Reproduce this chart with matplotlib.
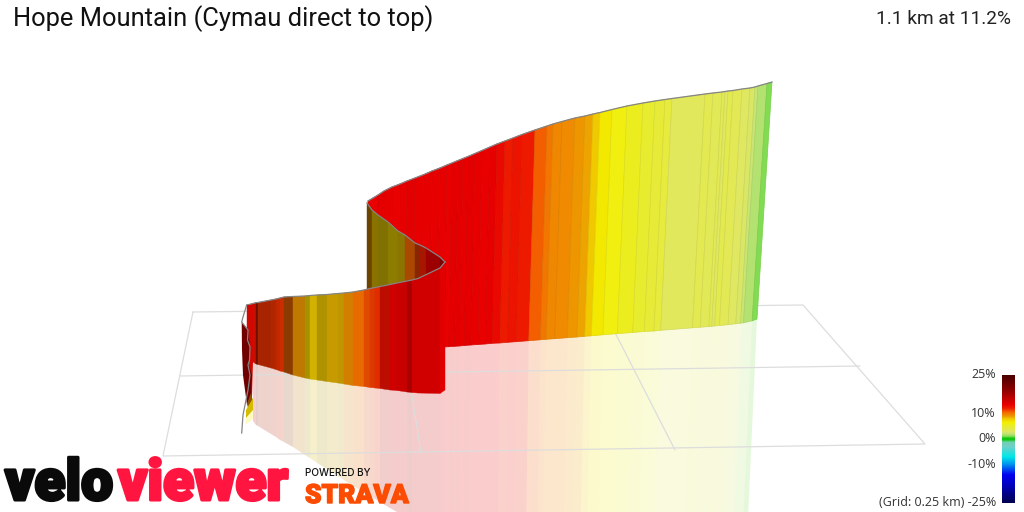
import numpy as np
import matplotlib
matplotlib.use("Agg")
import matplotlib.pyplot as plt
import matplotlib.patheffects as pe
from matplotlib.colors import LinearSegmentedColormap, Normalize

# ---- colour scale: gradient (%) -> colour
scale_grades = [-25, -18, -14, -10, -7, -3, -1.2, -0.4, 0.4, 1, 2, 3, 5, 6.5, 8, 9, 10.5, 12, 13.5, 16, 19, 25]
scale_colors = ['#000050', '#0000c0', '#0000f0', '#0090f0', '#00e8e8', '#70d0c8', '#70d0b0', '#10c810', '#10c810',
                '#80dc50', '#c0e478', '#e0e860', '#e8ec30', '#f4f000', '#f0c800', '#ee9800', '#f46800',
                '#ee2000', '#e80000', '#c00000', '#900000', '#4a0000']
scale_ticks = [25, 10, 0, -10, -25]
scale_labels = ['25%', '10%', '0%', '-10%', '(Grid: 0.25 km) -25%']

# ---- main wall (after the hairpin)
main_top_x = [368, 378, 384, 392, 400, 407, 415, 424, 432, 440, 447, 452, 458, 463, 468, 475, 482, 490, 497, 505,
              513, 522, 535, 547, 553, 562, 575, 585, 593, 600, 612, 627, 643, 655, 665, 672, 705, 713, 722, 725,
              728, 733, 742, 750, 755, 758, 767, 772]
main_top_y = [201, 195, 191, 187, 184, 181, 178, 174.5, 171, 168, 165, 163, 160.5, 158.5, 156.5, 153.5, 150.5, 147,
              144, 141, 138, 134.5, 130, 126, 124, 121.5, 118, 116, 114, 112.5, 109.5, 106, 103, 101, 99.5, 98.5,
              94, 93, 92, 91.5, 91, 90.5, 89, 88, 87, 86, 83.5, 82]
main_base_x = [368, 377.6, 383.4, 391.1, 398.8, 405.6, 413.3, 421.9, 429.6, 437.3, 444.1, 448.9, 454.7, 459.5, 464.3,
               471, 477.8, 485.5, 492.2, 499.9, 507.6, 516.3, 528.8, 540.4, 546.1, 554.8, 567.3, 577, 584.7, 591.4,
               603, 617.4, 632.8, 644.4, 654, 660.7, 692.5, 700.2, 708.9, 711.8, 714.6, 719.5, 728.1, 735.8, 740.6,
               743.5, 752.2, 757]
main_base_y = [353, 352, 352, 351.5, 351, 350.5, 350, 349, 348.5, 348, 347, 346.7, 346.3, 346, 345.5, 345, 344.5, 344,
               343.3, 343, 342.3, 341.7, 340.7, 339.8, 339.3, 338.7, 337.7, 337, 336.3, 335.8, 334.8, 333.6, 332.5,
               331.5, 331, 330.3, 327.8, 327.2, 326.6, 326.3, 326, 325.5, 324.7, 323.8, 323.2, 322.8, 320.8, 319]
main_grades = [13.4, 13.7, 13.5, 13.4, 13.5, 13.7, 13.5, 13.6, 13.5, 13.5, 13.4, 13.7, 13.7, 13.5, 13.7, 13.5, 13.4,
               13.5, 13.0, 12.3, 12.5, 12.3, 10.7, 10, 9.5, 9.4, 9, 8.7, 8, 6.8, 6, 5.5, 5, 4.6, 4.4, 3.2, 3.7, 3.4,
               3.6, 3, 3.8, 3.5, 3, 2.8, 2.3, 1.8, 1]

# ---- back-facing section up to the hairpin
back_x = [367, 372, 378, 388, 398, 405, 415, 420, 426, 440, 445]
back_top_y = [203, 210, 215, 222, 231, 235, 243, 245, 248, 257, 262]
back_base_y = [300, 300, 300, 300, 300, 300, 300, 300, 300, 300, 300]
back_grades = [9, 8, 7.5, 7.5, 8, 10.5, 11.3, 12, 13.5, 13.5]
back_shade = [.45, .57, .53, .58, .58, .7, .57, .7, .68, .53]

# ---- front section
front_x = [247, 256, 258, 271, 276, 280, 284, 293, 305, 310, 317, 327, 338, 344, 353, 364, 370, 375, 380, 390, 397,
           407, 412, 418, 440, 445]
front_top_y = [305, 302.7, 302.5, 300, 299, 298, 297, 296.5, 296, 295.5, 295, 294.5, 293.5, 293, 292, 290, 288.5,
               287.5, 286.5, 284.5, 283, 281, 280, 278.5, 268, 262]
front_base_y = [358, 364, 364.5, 368, 369.5, 371, 372, 375, 378, 379, 380, 381.5, 383, 384, 385.5, 386.5, 387.5, 388,
                388.5, 390, 390.5, 392, 392.5, 393, 393.5, 390]
front_grades = [12.6, 12, 11.6, 11.6, 11.6, 11.6, 10.5, 9, 7.6, 8, 8, 8.3, 8.3, 9.2, 10.2, 11, 11.4, 11.7, 12.6, 13.5,
                13.5, 13.5, 13.5, 13.5, 13.5]
front_shade = [.85, .47, .7, .73, .8, .85, .57, .8, .69, .88, .73, .83, .8, .88, .95, .92, .92, .94, .8, .89, .87,
               .74, .89, .9, .97]
front_mirror_y = [421, 425, 426, 434, 437, 440, 442, 447, 455, 458, 463, 469, 476, 480, 486, 492, 496, 499, 502, 508,
                  512, 520, 522, 526, 540, 540]

# ---- start of the climb (seen nearly edge-on)
start_line_x = [246.7, 243, 241.7, 248, 247.5, 250, 249.5, 248, 250, 248, 246, 243, 241.7]
start_line_y = [305, 317, 322, 330, 340, 347, 360, 365, 375, 390, 400, 415, 433]
start_dark_x = [241.7, 248, 250, 249, 252, 251, 247, 243, 242]
start_dark_y = [322, 330, 347, 365, 375, 395, 405, 375, 350]
start_red_x = [247, 253, 253, 252, 250, 249, 250, 248]
start_red_y = [305, 305, 362, 398, 395, 365, 347, 330]
start_brown_x = [251, 253, 248, 247]
start_brown_y = [393, 402, 408, 404]
start_yellow_x = [253, 253, 246, 246]
start_yellow_y = [398, 410, 418, 410]
start_pale_x = [253, 254, 245, 246]
start_pale_y = [410, 418, 425, 418]

# ---- ground grid
grid_x = [[193, 803, 925, 163, 193], [180, 860], [398, 421], [602, 675]]
grid_y = [[312, 305, 444, 456, 312], [376, 366], [307, 453], [307, 450]]

title = 'Hope Mountain (Cymau direct to top)'
summary = '1.1 km at 11.2%'

# ---- drawing
cmap = LinearSegmentedColormap.from_list(
    'grade', [((g + 25) / 50, c) for g, c in zip(scale_grades, scale_colors)], N=512)
norm = Normalize(-25, 25)


def shaded(grade, shade=1.0):
    return tuple(np.array(cmap(norm(grade))[:3]) * shade)


def seam(colour):
    return tuple(np.array(colour) * 0.93)


fig = plt.figure(figsize=(10.24, 5.12), dpi=100)
ax = fig.add_axes([0, 0, 1, 1])
ax.set_xlim(0, 1024)
ax.set_ylim(512, 0)
ax.axis('off')

MIRROR_ALPHA = 0.2
TRACK = '#858585'

# reflections
m_bx = np.array(main_base_x)
m_by = np.array(main_base_y)
m_rx = m_bx - 0.029 * (m_bx - 445)
for i, g in enumerate(main_grades):
    if main_base_x[i] < 444:
        continue
    x0 = max(m_bx[i], 445.0)
    ax.fill([x0, m_bx[i + 1], m_rx[i + 1], x0 - 0.029 * (x0 - 445)], [m_by[i], m_by[i + 1], 520, 520],
            color=shaded(g), alpha=MIRROR_ALPHA, lw=0, zorder=1)
for i, (g, s) in enumerate(zip(front_grades, front_shade)):
    if front_x[i + 1] < 253:
        continue
    x0 = max(front_x[i], 253)
    ax.fill([x0, front_x[i + 1], front_x[i + 1], x0],
            [front_base_y[i], front_base_y[i + 1], front_mirror_y[i + 1], front_mirror_y[i]],
            color=shaded(g, s), alpha=MIRROR_ALPHA, lw=0, zorder=1)

# grid
for gx, gy in zip(grid_x, grid_y):
    ax.plot(gx, gy, color='#dddddd', lw=0.9, zorder=2, solid_capstyle='round')

# main wall
for i, g in enumerate(main_grades):
    c = shaded(g)
    ax.fill([main_top_x[i], main_top_x[i + 1], main_base_x[i + 1], main_base_x[i]],
            [main_top_y[i], main_top_y[i + 1], main_base_y[i + 1], main_base_y[i]],
            facecolor=c, edgecolor=seam(c), lw=0.5, zorder=3)
ax.plot(main_top_x, main_top_y, color=TRACK, lw=0.9, zorder=4)

# back-facing section
for i, (g, s) in enumerate(zip(back_grades, back_shade)):
    c = shaded(g, s)
    ax.fill([back_x[i], back_x[i + 1], back_x[i + 1], back_x[i]],
            [back_top_y[i], back_top_y[i + 1], back_base_y[i + 1], back_base_y[i]],
            facecolor=c, edgecolor=c, lw=0.3, zorder=5)
ax.plot(back_x, back_top_y, color=TRACK, lw=0.9, zorder=6)

# front section
for i, (g, s) in enumerate(zip(front_grades, front_shade)):
    c = shaded(g, s)
    ax.fill([front_x[i], front_x[i + 1], front_x[i + 1], front_x[i]],
            [front_top_y[i], front_top_y[i + 1], front_base_y[i + 1], front_base_y[i]],
            facecolor=c, edgecolor=c, lw=0.3, zorder=7)
ax.plot(front_x, front_top_y, color=TRACK, lw=0.9, zorder=8)

# start of the climb
ax.fill(start_red_x, start_red_y, color=shaded(13, .9), lw=0, zorder=9)
ax.fill(start_dark_x, start_dark_y, color=shaded(14, .5), lw=0, zorder=10)
ax.fill(start_brown_x, start_brown_y, color=shaded(9.5, .6), lw=0, zorder=10)
ax.fill(start_yellow_x, start_yellow_y, color=shaded(7.5, .88), lw=0, zorder=10)
ax.fill(start_pale_x, start_pale_y, color=shaded(6.5), alpha=.25, lw=0, zorder=10)
ax.plot(start_line_x, start_line_y, color=TRACK, lw=0.9, zorder=11)

# colour bar
bar = np.linspace(25, -25, 256).reshape(-1, 1)
ax.imshow(bar, cmap=cmap, norm=norm, extent=(1002, 1015, 503, 375), aspect='auto', zorder=12)
ax.set_xlim(0, 1024)
ax.set_ylim(512, 0)
for t, lab in zip(scale_ticks, scale_labels):
    ax.text(996, 375 + (25 - t) * 128 / 50, lab, ha='right', va='center', fontsize=9,
            family='Open Sans', color='#333333', zorder=13)

# titles
ax.text(13, 18.5, title, ha='left', va='center', fontsize=18.4, family='Roboto', color='#111111', zorder=13)
ax.text(1011, 19, summary, ha='right', va='center', fontsize=13.8, family='Roboto', color='#222222', zorder=13)

# logos
ax.text(5, 500, 'velo', ha='left', va='baseline', fontsize=41, family='Roboto', weight='black',
        color='#0a0a0a', zorder=14, path_effects=[pe.withStroke(linewidth=2.2, foreground='#0a0a0a')])
ax.text(118, 500, 'viewer', ha='left', va='baseline', fontsize=41, family='Roboto', weight='black',
        color='#ff1540', zorder=14, path_effects=[pe.withStroke(linewidth=2.2, foreground='#ff1540')])
ax.text(305, 473.5, 'POWERED BY', ha='left', va='center', fontsize=7.2, family='Inter', weight='medium',
        color='#111111', zorder=14)
ax.text(305, 503, 'STRAVA', ha='left', va='baseline', fontsize=19, family='Roboto', weight='black',
        color='#fc4c02', zorder=14, path_effects=[pe.withStroke(linewidth=1.0, foreground='#fc4c02')])

fig.savefig('out.png', dpi=100, facecolor='white')
